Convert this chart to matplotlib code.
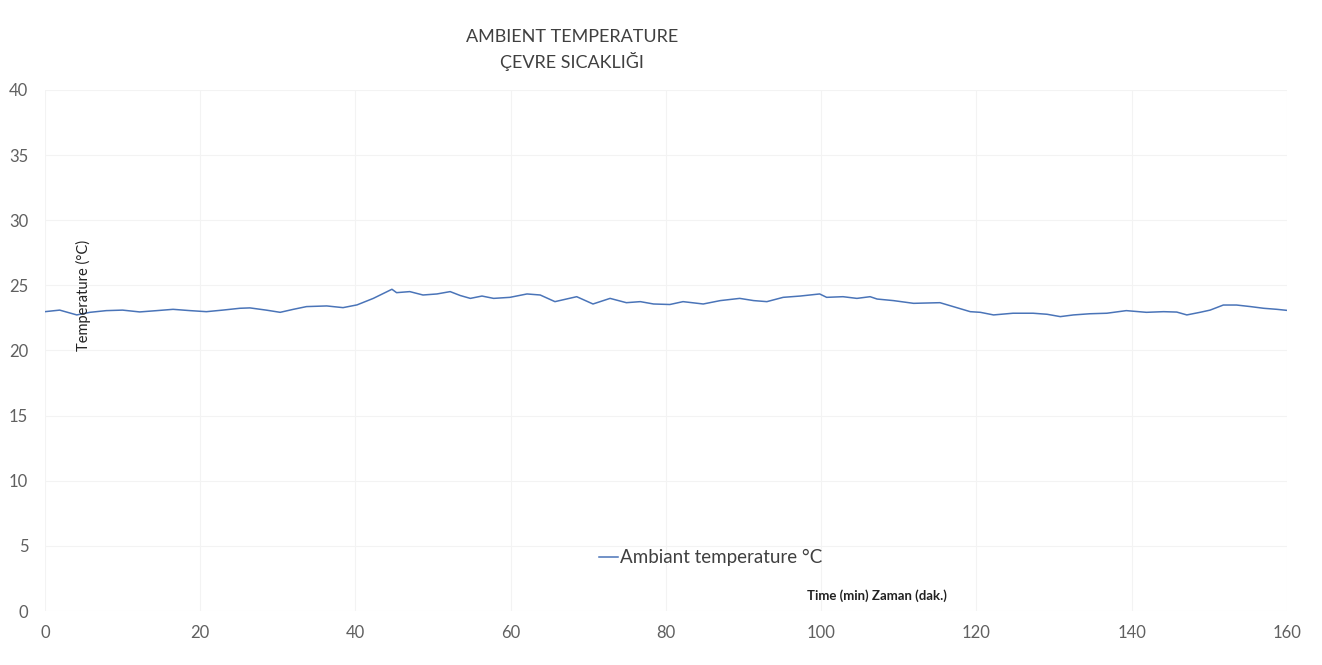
import matplotlib.pyplot as plt

# values (time in minutes, temperature in degC)
time_min = [0, 1.9, 4.1, 5.8, 7.9, 10, 12.2, 14.4, 16.5, 18.7, 20.8, 22.9, 25.1,
            26.4, 28.5, 30.3, 32, 33.7, 36.3, 38.4, 40.2, 42.3, 44.7, 45.3, 47,
            48.7, 50.5, 52.2, 53.5, 54.8, 56.3, 57.8, 59.9, 62.1, 63.8, 65.7,
            68.5, 70.6, 72.8, 74.9, 76.7, 78.4, 80.5, 82.2, 84.8, 87, 89.5,
            91.3, 93, 95.1, 97.3, 99.8, 100.7, 102.8, 104.6, 106.3, 107.2,
            109.3, 111.9, 115.3, 117, 119.2, 120.5, 122.2, 124.7, 127.3, 129.1,
            130.8, 132.5, 134.6, 136.8, 139.3, 141.9, 144.1, 145.8, 147.1,
            148.8, 150.1, 151.8, 153.5, 155.3, 157, 158.7, 160]
temp_c = [22.98, 23.1, 22.73, 22.93, 23.06, 23.1, 22.96, 23.06, 23.16, 23.06,
          22.98, 23.1, 23.24, 23.27, 23.1, 22.93, 23.16, 23.37, 23.42, 23.29,
          23.5, 24.0, 24.7, 24.44, 24.52, 24.26, 24.34, 24.52, 24.22, 24.0,
          24.18, 24.0, 24.08, 24.34, 24.26, 23.75, 24.13, 23.57, 24.0, 23.67,
          23.75, 23.57, 23.53, 23.75, 23.57, 23.83, 24.0, 23.83, 23.75, 24.08,
          24.18, 24.34, 24.08, 24.13, 24.0, 24.13, 23.95, 23.83, 23.62, 23.67,
          23.37, 22.98, 22.93, 22.73, 22.86, 22.86, 22.78, 22.6, 22.73, 22.82,
          22.86, 23.06, 22.93, 22.98, 22.95, 22.73, 22.93, 23.1, 23.49, 23.49,
          23.37, 23.24, 23.16, 23.08]

x_ticks = [0, 20, 40, 60, 80, 100, 120, 140, 160]
y_ticks = [0, 5, 10, 15, 20, 25, 30, 35, 40]

plt.rcParams['font.family'] = ['Lato', 'DejaVu Sans']

fig = plt.figure(figsize=(13.22, 6.65), dpi=100)
ax = fig.add_axes([0.034, 0.0812, 0.9395, 0.7835])

ax.plot(time_min, temp_c, color='#4a74b8', lw=1.1, label='Ambiant temperature °C')

ax.set_xlim(0, 160)
ax.set_ylim(0, 40)
ax.set_xticks(x_ticks)
ax.set_yticks(y_ticks)
ax.grid(True, color='#f3f3f3', lw=0.8)
for s in ax.spines.values():
    s.set_visible(False)
ax.tick_params(length=0, colors='#606060', labelsize=12)
ax.tick_params(axis='x', pad=10)
ax.tick_params(axis='y', pad=12)

fig.text(0.433, 0.945, 'AMBIENT TEMPERATURE', ha='center', va='center',
         fontsize=13, color='#404040')
fig.text(0.433, 0.908, 'ÇEVRE SICAKLIĞI', ha='center', va='center',
         fontsize=13, color='#404040')

ax.text(0.031, 0.605, 'Temperature (°C)', transform=ax.transAxes, rotation=90,
        ha='center', va='center', fontsize=10.5, color='#222222')
ax.text(0.67, 0.03, 'Time (min) Zaman (dak.)', transform=ax.transAxes,
        ha='center', va='center', fontsize=9.5, fontweight='bold', color='#222222')

leg = ax.legend(loc='center', bbox_to_anchor=(0.536, 0.102), frameon=False,
                fontsize=13.5, handlelength=1.0, handletextpad=0.1,
                labelcolor='#404040')

fig.savefig('out.png', dpi=100, facecolor='white')
